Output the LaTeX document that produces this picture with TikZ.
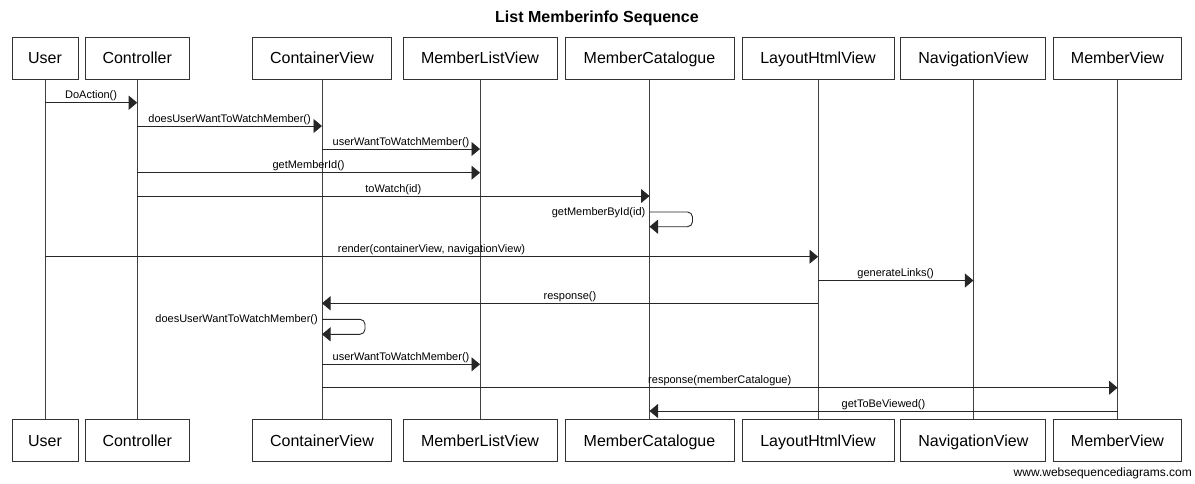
\documentclass[tikz,border=0pt]{standalone}
\usepackage{fontspec}
\setmainfont{Liberation Sans}
\usetikzlibrary{arrows.meta}
\begin{document}
\begin{tikzpicture}[x=1pt,y=-1pt,
  part/.style={draw=black!80, line width=1pt, minimum height=42pt, inner sep=0pt, text height=13.1pt, text depth=1.9pt, font=\fontsize{16}{19}\selectfont},
  life/.style={draw=black!75, line width=0.9pt},
  msg/.style={draw=black!85, line width=0.9pt, -{Triangle[length=8.5pt,width=14pt]}},
  lbl/.style={font=\fontsize{11}{13}\selectfont, inner sep=1pt, text height=8pt, text depth=2.4pt},
  slbl/.style={font=\fontsize{11}{13}\selectfont, inner sep=0pt, text height=8pt, text depth=2.4pt, anchor=east}]
\useasboundingbox (0,0) rectangle (1195,483);
\node[font=\bfseries\fontsize{16}{19}\selectfont] (title) at (597,18) {List Memberinfo Sequence};
% top participants
\node[part, minimum width=66pt]  (userT) at (45,58.3) {User};
\node[part, minimum width=104pt] (ctrlT) at (137.2,58.3) {Controller};
\node[part, minimum width=139pt] (contT) at (322,58.3) {ContainerView};
\node[part, minimum width=154pt] (mlvT)  at (480,58.3) {MemberListView};
\node[part, minimum width=169pt] (catT)  at (649.5,58.3) {MemberCatalogue};
\node[part, minimum width=152pt] (layT)  at (818,58.3) {LayoutHtmlView};
\node[part, minimum width=145pt] (navT)  at (973.4,58.3) {NavigationView};
\node[part, minimum width=128pt] (mvT)   at (1117.5,58.3) {MemberView};
% bottom participants
\node[part, minimum width=66pt]  (userB) at (45,440.5) {User};
\node[part, minimum width=104pt] (ctrlB) at (137.2,440.5) {Controller};
\node[part, minimum width=139pt] (contB) at (322,440.5) {ContainerView};
\node[part, minimum width=154pt] (mlvB)  at (480,440.5) {MemberListView};
\node[part, minimum width=169pt] (catB)  at (649.5,440.5) {MemberCatalogue};
\node[part, minimum width=152pt] (layB)  at (818,440.5) {LayoutHtmlView};
\node[part, minimum width=145pt] (navB)  at (973.4,440.5) {NavigationView};
\node[part, minimum width=128pt] (mvB)   at (1117.5,440.5) {MemberView};
% lifelines
\foreach \p in {user,ctrl,cont,mlv,cat,lay,nav,mv}
  \draw[life] (\p T.south) -- (\p B.north);
% messages
\draw[msg] (userT.south |- 0,102.7) -- node[lbl, above] {DoAction()} (ctrlT.south |- 0,102.7);
\draw[msg] (ctrlT.south |- 0,126) -- node[lbl, above] {doesUserWantToWatchMember()} (contT.south |- 0,126);
\draw[msg] (contT.south |- 0,149) -- node[lbl, above] {userWantToWatchMember()} (mlvT.south |- 0,149);
\draw[msg] (ctrlT.south |- 0,172.7) -- node[lbl, above] {getMemberId()} (mlvT.south |- 0,172.7);
\draw[msg] (ctrlT.south |- 0,196) -- node[lbl, above] {toWatch(id)} (catT.south |- 0,196);
\draw[msg, rounded corners=5pt] (catT.south |- 0,212) -- ++(43,0) -- ++(0,14.7) -- (catT.south |- 0,226.7);
\node[slbl] (l6) at ([xshift=-4pt]catT.south |- 0,212.5) {getMemberById(id)};
\draw[msg] (userT.south |- 0,256.7) -- node[lbl, above] {render(containerView, navigationView)} (layT.south |- 0,256.7);
\draw[msg] (layT.south |- 0,280.5) -- node[lbl, above] {generateLinks()} (navT.south |- 0,280.5);
\draw[msg] (layT.south |- 0,303.3) -- node[lbl, above] {response()} (contT.south |- 0,303.3);
\draw[msg, rounded corners=5pt] (contT.south |- 0,319.3) -- ++(43,0) -- ++(0,15) -- (contT.south |- 0,334.3);
\node[slbl] (l10) at ([xshift=-4pt]contT.south |- 0,319.8) {doesUserWantToWatchMember()};
\draw[msg] (contT.south |- 0,364.3) -- node[lbl, above] {userWantToWatchMember()} (mlvT.south |- 0,364.3);
\draw[msg] (contT.south |- 0,387.7) -- node[lbl, above] {response(memberCatalogue)} (mvT.south |- 0,387.7);
\draw[msg] (mvT.south |- 0,411) -- node[lbl, above] {getToBeViewed()} (catT.south |- 0,411);
% footer
\node[font=\fontsize{12}{14}\selectfont, anchor=east, inner sep=0pt] (footer) at (1192,473) {www.websequencediagrams.com};
\end{tikzpicture}
\end{document}
